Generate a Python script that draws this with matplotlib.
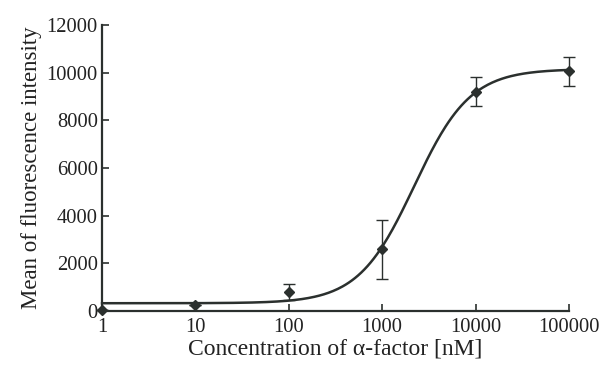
import numpy as np
import matplotlib
matplotlib.use("Agg")
import matplotlib.pyplot as plt
from matplotlib.ticker import FixedLocator, NullLocator

# measured points
conc = [1, 10, 100, 1000, 10000, 100000]
mean_fi = [60, 250, 800, 2600, 9200, 10050]
err_lo = [0, 0, 350, 1250, 600, 600]
err_hi = [0, 0, 350, 1200, 600, 600]

# fitted sigmoid parameters
fit_bottom = 330
fit_top = 10150
fit_ec50 = 2200
fit_hill = 1.45

x_ticks = [1, 10, 100, 1000, 10000, 100000]
x_labels = ["1", "10", "100", "1000", "10000", "100000"]
y_ticks = [0, 2000, 4000, 6000, 8000, 10000, 12000]

ink = "#2b302e"
plt.rcParams['font.family'] = ['Liberation Serif', 'DejaVu Serif']

fig = plt.figure(figsize=(6.04, 3.66), dpi=100)
ax = fig.add_axes([0.169, 0.15, 0.773, 0.782])

xs = np.logspace(0, 5, 300)
fit = fit_bottom + (fit_top - fit_bottom) / (1 + (fit_ec50 / xs) ** fit_hill)
ax.plot(xs, fit, color=ink, lw=1.8)

ax.errorbar(conc, mean_fi, yerr=[err_lo, err_hi], fmt='D', color=ink,
            ms=5.5, ecolor=ink, elinewidth=1.0, capsize=4, capthick=1.0)

ax.set_xscale('log')
ax.set_xlim(1, 100000)
ax.set_ylim(0, 12000)
ax.xaxis.set_major_locator(FixedLocator(x_ticks))
ax.xaxis.set_minor_locator(NullLocator())
ax.set_xticklabels(x_labels)
ax.set_yticks(y_ticks)

for s in ['top', 'right']:
    ax.spines[s].set_visible(False)
for s in ['left', 'bottom']:
    ax.spines[s].set_linewidth(1.6)
    ax.spines[s].set_color(ink)
ax.tick_params(direction='in', length=5, width=1.2, colors=ink, labelsize=14.8,
               labelcolor='#222222')
ax.tick_params(axis='x', pad=5)
ax.tick_params(axis='y', pad=3)

ax.set_xlabel("Concentration of \u03b1-factor [nM]", fontsize=17, color='#222222', labelpad=1)
ax.set_ylabel("Mean of fluorescence intensity", fontsize=16.5, color='#222222', labelpad=3)
for c in ax.get_children():
    if hasattr(c, 'set_clip_on'):
        c.set_clip_on(False)

fig.savefig("out.png", dpi=100)
